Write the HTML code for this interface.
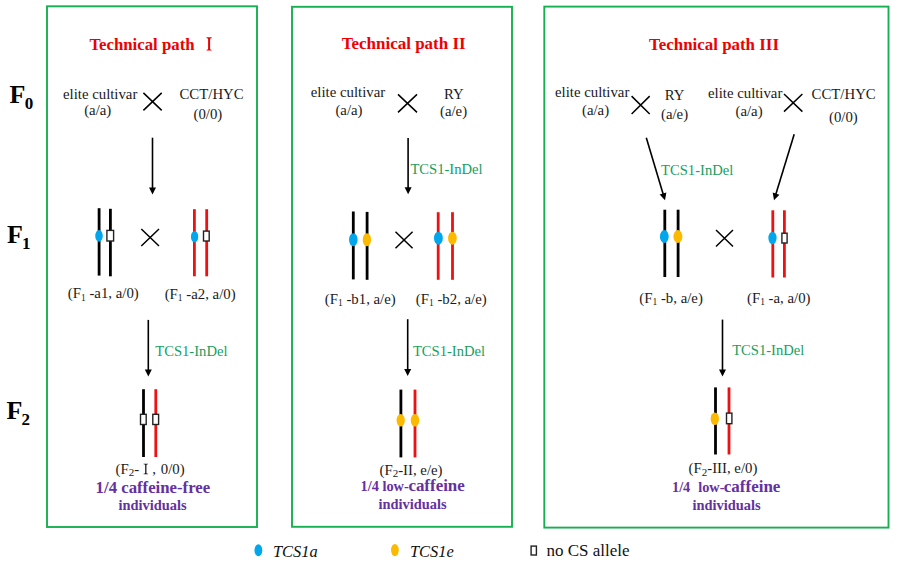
<!DOCTYPE html>
<html><head><meta charset="utf-8"><style>
html,body{margin:0;padding:0;background:#fff;width:900px;height:566px;overflow:hidden}
svg{display:block}
text{font-family:"Liberation Serif",serif}
</style></head><body>
<svg width="900" height="566" viewBox="0 0 900 566">
<rect x="47" y="6.3" width="210" height="520.7" fill="none" stroke="#17b050" stroke-width="1.9"/>
<rect x="292" y="6.8" width="220" height="520.0" fill="none" stroke="#17b050" stroke-width="1.9"/>
<rect x="544.3" y="6.6" width="344.20000000000005" height="521.0" fill="none" stroke="#17b050" stroke-width="1.9"/>
<text x="9.5" y="103" font-size="26" font-weight="bold" fill="#000">F<tspan font-size="17" dx="-0.7" dy="6.2">0</tspan></text>
<text x="7.0" y="242.6" font-size="26" font-weight="bold" fill="#000">F<tspan font-size="17" dx="-0.9" dy="6.2">1</tspan></text>
<text x="6.4" y="418.5" font-size="26" font-weight="bold" fill="#000">F<tspan font-size="17" dx="-0.8" dy="6.0">2</tspan></text>
<text x="89.4" y="50.2" font-size="17.6" fill="#ee0000" font-weight="bold" font-style="normal" text-anchor="start" textLength="105.2" lengthAdjust="spacingAndGlyphs">Technical path</text>
<path d="M206.5 37.3L211.7 37.3L211.7 37.959999999999994Q210.1 38.29 210.1 39.059999999999995L210.1 48.84Q210.1 49.61 211.7 49.940000000000005L211.7 50.6L206.5 50.6L206.5 49.940000000000005Q208.1 49.61 208.1 48.84L208.1 39.059999999999995Q208.1 38.29 206.5 37.959999999999994Z" fill="#ee0000"/>
<text x="341.8" y="48.6" font-size="17.6" fill="#ee0000" font-weight="bold" font-style="normal" text-anchor="start" textLength="123.8" lengthAdjust="spacingAndGlyphs">Technical path II</text>
<text x="649.0" y="49.9" font-size="17.6" fill="#ee0000" font-weight="bold" font-style="normal" text-anchor="start" textLength="130.0" lengthAdjust="spacingAndGlyphs">Technical path III</text>
<text x="63" y="98.8" font-size="14.8" fill="#1a1a1a" font-weight="normal" font-style="normal" text-anchor="start" >elite cultivar</text>
<text x="84.2" y="114.6" font-size="14.8" fill="#1a1a1a" font-weight="normal" font-style="normal" text-anchor="start" >(a/a)</text>
<path d="M143.4 92.9L161.7 110.4M161.7 92.9L143.4 110.4" stroke="#000" stroke-width="1.5" fill="none"/>
<text x="179.5" y="99" font-size="14.8" fill="#1a1a1a" font-weight="normal" font-style="normal" text-anchor="start" >CCT/HYC</text>
<text x="193.5" y="118.8" font-size="14.8" fill="#1a1a1a" font-weight="normal" font-style="normal" text-anchor="start" >(0/0)</text>
<line x1="152.5" y1="137.7" x2="152.5" y2="188.4" stroke="#000" stroke-width="1.6"/>
<polygon points="152.5,194.4 149.0,187.4 156.0,187.4" fill="#000"/>
<line x1="99.1" y1="208.2" x2="99.1" y2="275.6" stroke="#000" stroke-width="2.8"/>
<line x1="110.4" y1="208.8" x2="110.4" y2="276.3" stroke="#000" stroke-width="2.8"/>
<ellipse cx="99" cy="235.8" rx="3.8" ry="5.9" fill="#02a6ec"/>
<rect x="106.9" y="230.4" width="6.699999999999989" height="10.599999999999994" fill="#fff" stroke="#222" stroke-width="1.4"/>
<path d="M141.3 229L159 246M159 229L141.3 246" stroke="#000" stroke-width="1.5" fill="none"/>
<line x1="194.4" y1="209.2" x2="194.4" y2="276.3" stroke="#ee1111" stroke-width="2.8"/>
<line x1="206.7" y1="209.2" x2="206.7" y2="276.3" stroke="#ee1111" stroke-width="2.8"/>
<ellipse cx="194.6" cy="236.7" rx="3.7" ry="5.7" fill="#02a6ec"/>
<rect x="203.5" y="231.1" width="5.699999999999989" height="9.900000000000006" fill="#fff" stroke="#222" stroke-width="1.4"/>
<text x="67.8" y="298.4" font-size="14.8" fill="#1a1a1a">(F<tspan font-size="9.5" dy="2.5">1</tspan><tspan dy="-2.5"> -a1, a/0)</tspan></text>
<text x="164.7" y="298.6" font-size="14.8" fill="#1a1a1a">(F<tspan font-size="9.5" dy="2.5">1</tspan><tspan dy="-2.5"> -a2, a/0)</tspan></text>
<line x1="148.3" y1="319.9" x2="148.3" y2="370.4" stroke="#000" stroke-width="1.6"/>
<polygon points="148.3,376.4 144.8,369.4 151.8,369.4" fill="#000"/>
<text x="155.3" y="355.9" font-size="14.6" fill="#16a060" font-weight="normal" font-style="normal" text-anchor="start" >TCS1-InDel</text>
<line x1="143.5" y1="389.2" x2="143.5" y2="457" stroke="#000" stroke-width="2.8"/>
<line x1="155.8" y1="389.2" x2="155.8" y2="457" stroke="#ee1111" stroke-width="2.8"/>
<rect x="140.5" y="414.3" width="5.699999999999989" height="10.199999999999989" fill="#fff" stroke="#222" stroke-width="1.4"/>
<rect x="152.8" y="414.3" width="5.799999999999983" height="10.199999999999989" fill="#fff" stroke="#222" stroke-width="1.4"/>
<text x="115.6" y="473.6" font-size="14.8" fill="#1a1a1a">(F<tspan font-size="11" dy="2.8">2</tspan><tspan dy="-2.8">-</tspan></text>
<path d="M143.60000000000002 463.8L148.0 463.8L148.0 464.28000000000003Q146.45000000000002 464.52000000000004 146.45000000000002 465.08L146.45000000000002 472.92Q146.45000000000002 473.47999999999996 148.0 473.71999999999997L148.0 474.2L143.60000000000002 474.2L143.60000000000002 473.71999999999997Q145.15 473.47999999999996 145.15 472.92L145.15 465.08Q145.15 464.52000000000004 143.60000000000002 464.28000000000003Z" fill="#1a1a1a"/>
<text x="152.3" y="473.6" font-size="14.8" fill="#1a1a1a" font-weight="normal" font-style="normal" text-anchor="start" >,</text>
<text x="160.8" y="473.6" font-size="14.8" fill="#1a1a1a" font-weight="normal" font-style="normal" text-anchor="start" >0/0)</text>
<text x="95.6" y="492.6" font-size="16.6" fill="#6530a0" font-weight="bold" font-style="normal" text-anchor="start" textLength="114.6" lengthAdjust="spacingAndGlyphs">1/4 caffeine-free</text>
<text x="118.5" y="510" font-size="14.4" fill="#6530a0" font-weight="bold" font-style="normal" text-anchor="start" >individuals</text>
<text x="310.8" y="97.2" font-size="14.8" fill="#1a1a1a" font-weight="normal" font-style="normal" text-anchor="start" >elite cultivar</text>
<text x="335.4" y="115" font-size="14.8" fill="#1a1a1a" font-weight="normal" font-style="normal" text-anchor="start" >(a/a)</text>
<path d="M398 94.4L417 112.4M417 94.4L398 112.4" stroke="#000" stroke-width="1.5" fill="none"/>
<text x="444" y="99" font-size="14.8" fill="#1a1a1a" font-weight="normal" font-style="normal" text-anchor="start" >RY</text>
<text x="440" y="116" font-size="14.8" fill="#1a1a1a" font-weight="normal" font-style="normal" text-anchor="start" >(a/e)</text>
<line x1="408.1" y1="138" x2="408.1" y2="188.3" stroke="#000" stroke-width="1.6"/>
<polygon points="408.1,194.3 404.6,187.3 411.6,187.3" fill="#000"/>
<text x="410.4" y="174.3" font-size="14.6" fill="#16a060" font-weight="normal" font-style="normal" text-anchor="start" >TCS1-InDel</text>
<line x1="353.3" y1="211.5" x2="353.3" y2="279.4" stroke="#000" stroke-width="2.8"/>
<line x1="367.1" y1="211.9" x2="367.1" y2="279.8" stroke="#000" stroke-width="2.8"/>
<ellipse cx="353.3" cy="239.7" rx="4.3" ry="6.5" fill="#02a6ec"/>
<ellipse cx="366.9" cy="239.7" rx="4.2" ry="6.5" fill="#fbba00"/>
<path d="M395.5 231.8L412.6 248.3M412.6 231.8L395.5 248.3" stroke="#000" stroke-width="1.5" fill="none"/>
<line x1="438.2" y1="212.2" x2="438.2" y2="279.8" stroke="#ee1111" stroke-width="2.8"/>
<line x1="452.5" y1="212.2" x2="452.5" y2="279.8" stroke="#ee1111" stroke-width="2.8"/>
<ellipse cx="438.4" cy="238.2" rx="4.4" ry="6.5" fill="#02a6ec"/>
<ellipse cx="452.4" cy="238.2" rx="4.3" ry="6.5" fill="#fbba00"/>
<text x="324.8" y="303.6" font-size="14.8" fill="#1a1a1a">(F<tspan font-size="9.5" dy="2.5">1</tspan><tspan dy="-2.5"> -b1, a/e)</tspan></text>
<text x="415.8" y="303.6" font-size="14.8" fill="#1a1a1a">(F<tspan font-size="9.5" dy="2.5">1</tspan><tspan dy="-2.5"> -b2, a/e)</tspan></text>
<line x1="407.7" y1="319.2" x2="407.7" y2="370.1" stroke="#000" stroke-width="1.6"/>
<polygon points="407.7,376.1 404.2,369.1 411.2,369.1" fill="#000"/>
<text x="412.9" y="355.9" font-size="14.6" fill="#16a060" font-weight="normal" font-style="normal" text-anchor="start" >TCS1-InDel</text>
<line x1="400.9" y1="389.6" x2="400.9" y2="457.4" stroke="#000" stroke-width="2.8"/>
<line x1="415" y1="389.6" x2="415" y2="457.4" stroke="#ee1111" stroke-width="2.8"/>
<ellipse cx="400.7" cy="420.2" rx="4.1" ry="6.3" fill="#fbba00"/>
<ellipse cx="415" cy="420.2" rx="4.2" ry="6.3" fill="#fbba00"/>
<text x="379.5" y="474.6" font-size="14.8" fill="#1a1a1a">(F<tspan font-size="11" dy="2.8">2</tspan><tspan dy="-2.8">-II, e/e)</tspan></text>
<text x="360.6" y="491.3" font-size="14.3" fill="#6530a0" font-weight="bold" font-style="normal" text-anchor="start" >1/4 low-</text>
<text x="408.4" y="491.3" font-size="16.2" fill="#6530a0" font-weight="bold" font-style="normal" text-anchor="start" textLength="56.4" lengthAdjust="spacingAndGlyphs">caffeine</text>
<text x="378.5" y="509.3" font-size="14.4" fill="#6530a0" font-weight="bold" font-style="normal" text-anchor="start" >individuals</text>
<text x="555" y="97" font-size="14.8" fill="#1a1a1a" font-weight="normal" font-style="normal" text-anchor="start" >elite cultivar</text>
<text x="582" y="114.8" font-size="14.8" fill="#1a1a1a" font-weight="normal" font-style="normal" text-anchor="start" >(a/a)</text>
<path d="M631.6 96.1L649.7 114M649.7 96.1L631.6 114" stroke="#000" stroke-width="1.5" fill="none"/>
<text x="664.8" y="99.8" font-size="14.8" fill="#1a1a1a" font-weight="normal" font-style="normal" text-anchor="start" >RY</text>
<text x="661" y="118.6" font-size="14.8" fill="#1a1a1a" font-weight="normal" font-style="normal" text-anchor="start" >(a/e)</text>
<text x="708" y="98" font-size="14.8" fill="#1a1a1a" font-weight="normal" font-style="normal" text-anchor="start" >elite cultivar</text>
<text x="735.5" y="116" font-size="14.8" fill="#1a1a1a" font-weight="normal" font-style="normal" text-anchor="start" >(a/a)</text>
<path d="M784 94L802.4 111.6M802.4 94L784 111.6" stroke="#000" stroke-width="1.5" fill="none"/>
<text x="811.6" y="99" font-size="14.8" fill="#1a1a1a" font-weight="normal" font-style="normal" text-anchor="start" >CCT/HYC</text>
<text x="829" y="122" font-size="14.8" fill="#1a1a1a" font-weight="normal" font-style="normal" text-anchor="start" >(0/0)</text>
<line x1="646.3" y1="137.8" x2="663.2801320295724" y2="194.55177817370472" stroke="#000" stroke-width="1.6"/>
<polygon points="665,200.3 659.6403579691623,194.59699751873825 666.3466167665067,192.59048488657277" fill="#000"/>
<line x1="794.2" y1="134.3" x2="775.7559612192553" y2="194.56270096679006" stroke="#000" stroke-width="1.6"/>
<polygon points="774,200.3 772.7018636530919,192.5821737500229 779.3953791918369,194.63079517248724" fill="#000"/>
<text x="661.1" y="175.4" font-size="14.6" fill="#16a060" font-weight="normal" font-style="normal" text-anchor="start" >TCS1-InDel</text>
<line x1="664.8" y1="209.7" x2="664.8" y2="277" stroke="#000" stroke-width="2.8"/>
<line x1="678.1" y1="209.7" x2="678.1" y2="277" stroke="#000" stroke-width="2.8"/>
<ellipse cx="664.3" cy="236.5" rx="4.4" ry="6.5" fill="#02a6ec"/>
<ellipse cx="677.9" cy="236.5" rx="4.5" ry="6.5" fill="#fbba00"/>
<path d="M716 230L733 246.5M733 230L716 246.5" stroke="#000" stroke-width="1.5" fill="none"/>
<line x1="772.8" y1="210.3" x2="772.8" y2="277.5" stroke="#ee1111" stroke-width="2.8"/>
<line x1="784.4" y1="210.3" x2="784.4" y2="277.5" stroke="#ee1111" stroke-width="2.8"/>
<ellipse cx="772.5" cy="238" rx="4.1" ry="6.2" fill="#02a6ec"/>
<rect x="781.9" y="233.2" width="5.2000000000000455" height="9.800000000000011" fill="#fff" stroke="#222" stroke-width="1.4"/>
<text x="639.3" y="302.5" font-size="14.8" fill="#1a1a1a">(F<tspan font-size="9.5" dy="2.5">1</tspan><tspan dy="-2.5"> -b, a/e)</tspan></text>
<text x="747" y="302.5" font-size="14.8" fill="#1a1a1a">(F<tspan font-size="9.5" dy="2.5">1</tspan><tspan dy="-2.5"> -a, a/0)</tspan></text>
<line x1="722.5" y1="319.6" x2="722.5" y2="370.4" stroke="#000" stroke-width="1.6"/>
<polygon points="722.5,376.4 719.0,369.4 726.0,369.4" fill="#000"/>
<text x="732.2" y="354.5" font-size="14.6" fill="#16a060" font-weight="normal" font-style="normal" text-anchor="start" >TCS1-InDel</text>
<line x1="715.5" y1="387.4" x2="715.5" y2="454.5" stroke="#000" stroke-width="2.8"/>
<line x1="729" y1="387.4" x2="729" y2="454.5" stroke="#ee1111" stroke-width="2.8"/>
<ellipse cx="714.8" cy="418.7" rx="4.2" ry="6.3" fill="#fbba00"/>
<rect x="726.5" y="413.1" width="5.399999999999977" height="10.599999999999966" fill="#fff" stroke="#222" stroke-width="1.4"/>
<text x="688.6" y="473.4" font-size="14.8" fill="#1a1a1a">(F<tspan font-size="11" dy="2.8">2</tspan><tspan dy="-2.8">-III, e/0)</tspan></text>
<text x="672" y="491.5" font-size="14.3" fill="#6530a0" font-weight="bold" font-style="normal" text-anchor="start" >1/4</text>
<text x="698.2" y="491.5" font-size="14.3" fill="#6530a0" font-weight="bold" font-style="normal" text-anchor="start" >low-</text>
<text x="723.8" y="491.5" font-size="16.2" fill="#6530a0" font-weight="bold" font-style="normal" text-anchor="start" textLength="56.6" lengthAdjust="spacingAndGlyphs">caffeine</text>
<text x="692.6" y="510.1" font-size="14.4" fill="#6530a0" font-weight="bold" font-style="normal" text-anchor="start" >individuals</text>
<ellipse cx="258.4" cy="550.3" rx="3.9" ry="6" fill="#02a6ec"/>
<text x="273" y="556.8" font-size="16.4" fill="#111" font-weight="normal" font-style="italic" text-anchor="start" >TCS1a</text>
<ellipse cx="394.9" cy="550.1" rx="3.9" ry="6.2" fill="#fbba00"/>
<text x="410" y="556.8" font-size="16.4" fill="#111" font-weight="normal" font-style="italic" text-anchor="start" >TCS1e</text>
<rect x="531.1" y="546.1" width="5.2999999999999545" height="8.899999999999977" fill="#fff" stroke="#222" stroke-width="1.4"/>
<text x="546.5" y="556.3" font-size="17" fill="#111" font-weight="normal" font-style="normal" text-anchor="start" >no CS allele</text>
</svg>
</body></html>
